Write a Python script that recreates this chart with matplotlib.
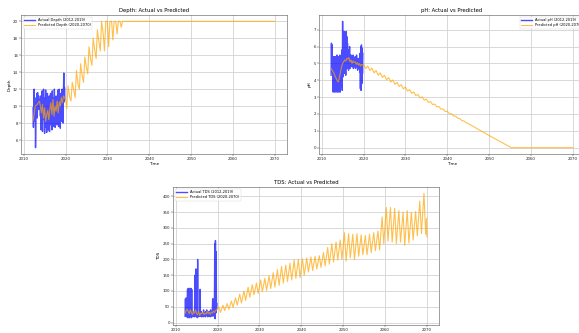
import numpy as np
import matplotlib
matplotlib.use("Agg")
import matplotlib.pyplot as plt

# actual measurements, monthly from Apr 2012
ACTUAL_START = 2012.25
ACTUAL_STEP = 1 / 12
# in-sample model fit, quarterly from Apr 2012
FIT_START = 2012.25
FIT_STEP = 0.25

depth_actual = [
    9.8, 7.5, 9.6, 12.0, 9.5, 8.2, 10.5, 5.1, 8.0,
    11.0, 9.2, 11.5, 8.6, 11.6, 9.8, 10.2, 11.2, 9.6, 10.8, 10.0, 10.5,
    8.8, 11.2, 7.2, 10.8, 8.0, 11.8, 7.0, 10.5, 9.2, 12.0, 8.4, 11.0,
    6.8, 10.8, 8.2, 11.9, 7.5, 10.2, 6.9, 9.8, 11.5, 8.0, 10.8, 7.2,
    9.5, 11.2, 7.0, 10.0, 8.5, 11.5, 7.8, 9.0, 10.5, 7.2, 11.8, 8.6,
    10.2, 7.6, 11.0, 8.8, 12.0, 9.0, 7.5, 10.6, 8.0, 11.2, 9.4, 7.8,
    10.8, 8.5, 11.9, 9.2, 7.6, 10.4, 12.0, 8.8, 10.0, 7.4, 11.5, 9.0,
    10.6, 8.2, 12.0, 9.5, 10.8, 8.0, 11.6, 13.9, 10.5, 12.2, 10.8,
]
depth_fit = [
    8.3, 9.0, 10.0, 10.1, 10.2, 10.4, 10.6, 10.0, 9.2, 10.2, 8.6, 9.8,
    8.2, 9.0, 9.5, 8.4, 9.6, 10.4, 9.0, 10.8, 8.8, 10.0, 9.4, 10.6,
    9.2, 10.5, 10.0, 11.0, 10.4, 11.2, 11.0,
]
depth_pred_years = [
    2020.0, 2020.3, 2020.6, 2021.0, 2021.3, 2021.6, 2022.0, 2022.3, 2022.6,
    2023.0, 2023.3, 2023.6, 2024.0, 2024.3, 2024.6, 2025.0, 2025.3, 2025.6,
    2026.0, 2026.3, 2026.6, 2027.0, 2027.3, 2027.6, 2028.0, 2028.3, 2028.6,
    2029.0, 2029.3, 2029.6, 2030.0, 2030.3, 2030.6, 2031.0, 2031.3, 2031.6,
    2032.0, 2032.3, 2032.6, 2033.0, 2033.3, 2033.6, 2070.0,
]
depth_pred = [
    10.8, 9.7, 12.4, 11.0, 10.6, 12.8, 11.8, 11.0, 14.2,
    12.5, 12.0, 15.0, 13.5, 12.8, 15.8, 14.5, 13.8, 17.0,
    15.5, 14.8, 18.0, 16.5, 15.6, 19.0, 17.5, 16.5, 20.0,
    18.5, 16.5, 20.0, 20.0, 17.0, 20.0, 20.0, 17.8, 20.0,
    20.0, 18.5, 20.0, 20.0, 19.3, 20.0, 20.0,
]

ph_actual = [
    4.3, 6.2, 4.5, 6.1, 4.8, 5.4, 3.3, 5.4, 3.4,
    5.4, 3.3, 5.4, 3.5, 5.3, 3.3, 5.4, 3.4, 5.5, 3.3, 5.4, 3.6,
    5.3, 3.3, 5.4, 3.4, 5.5, 3.3, 5.2, 3.6, 5.4, 4.0, 5.8, 3.4,
    7.5, 4.2, 6.0, 4.5, 6.9, 4.4, 6.8, 4.6, 6.5, 4.3, 6.9, 4.8,
    6.6, 4.7, 6.2, 4.9, 5.8, 4.6, 5.6, 4.8, 6.0, 4.7, 5.5, 4.9,
    5.5, 4.9, 5.3, 4.8, 5.2, 4.9, 5.5, 4.7, 5.3, 4.9, 5.1, 4.8,
    5.4, 4.7, 5.2, 4.9, 5.5, 4.8, 5.1, 4.6, 5.3, 4.9, 5.0, 4.7,
    5.3, 4.5, 5.6, 3.5, 6.0, 3.4, 6.1, 3.8, 5.9, 4.4, 5.6,
]
ph_fit = [
    4.7, 4.6, 4.5, 4.4, 4.2, 4.1, 3.95, 3.9, 4.2, 4.5, 4.8, 5.0,
    5.1, 5.2, 5.15, 5.3, 5.25, 5.35, 5.1, 5.2, 5.0, 5.15, 5.05, 5.1,
    4.95, 5.05, 4.9, 5.0, 4.85, 4.95, 4.9,
]
ph_pred_years = [
    2020.0, 2020.5, 2021.0, 2021.5, 2022.0, 2022.5, 2023.0, 2023.5,
    2024.0, 2024.5, 2025.0, 2025.5, 2026.0, 2026.5, 2027.0, 2027.5,
    2028.0, 2028.5, 2029.0, 2029.5, 2030.0, 2030.5, 2031.0, 2031.5,
    2032.0, 2032.5, 2033.0, 2033.5, 2034.0, 2034.5, 2035.0, 2035.5,
    2036.0, 2036.5, 2037.0, 2037.5, 2038.0, 2038.5, 2039.0, 2039.5,
    2040.0, 2040.5, 2041.0, 2041.5, 2042.0, 2042.5, 2043.0, 2043.5,
    2044.0, 2044.5, 2045.0, 2050.0, 2055.3, 2070.0,
]
ph_pred = [
    4.95, 4.70, 4.85, 4.58, 4.72, 4.44, 4.58, 4.30,
    4.44, 4.17, 4.30, 4.03, 4.16, 3.90, 4.02, 3.76,
    3.88, 3.63, 3.74, 3.49, 3.60, 3.36, 3.45, 3.22,
    3.31, 3.09, 3.16, 2.95, 3.02, 2.82, 2.88, 2.69,
    2.73, 2.56, 2.59, 2.42, 2.44, 2.29, 2.30, 2.15,
    2.16, 2.02, 2.01, 1.88, 1.87, 1.75, 1.72, 1.61,
    1.58, 1.48, 1.43, 0.72, 0.0, 0.0,
]

tds_actual = [
    20, 75, 22, 78, 18, 30, 20, 105, 15,
    108, 20, 108, 15, 108, 18, 108, 22, 108, 15, 105, 20,
    25, 18, 30, 20, 22, 35, 18, 150, 20, 30, 170, 25,
    20, 35, 15, 200, 22, 30, 18, 25, 20, 35, 105, 22,
    20, 35, 18, 28, 25, 20, 30, 18, 40, 22, 28, 20,
    30, 18, 35, 22, 25, 40, 20, 28, 18, 32, 25, 20,
    35, 22, 28, 18, 40, 25, 20, 30, 22, 38, 75, 20,
    70, 25, 75, 30, 250, 12, 260, 30, 225, 40, 60,
]
tds_fit = [
    30, 38, 42, 35, 28, 40, 32, 25, 35, 30, 40, 28,
    25, 35, 22, 30, 28, 33, 25, 30, 27, 35, 28, 32,
    26, 33, 30, 36, 32, 38, 40,
]
# yearly seasonal peak / trough of the TDS forecast, 2020..2069
tds_pred_high = [
    50, 55, 60, 68, 78, 90, 100, 112, 120, 125,
    135, 140, 148, 158, 168, 178, 182, 188, 198, 200,
    202, 205, 208, 210, 212, 222, 238, 250, 255, 262,
    285, 282, 280, 282, 278, 276, 280, 285, 290, 335,
    365, 365, 362, 355, 350, 355, 350, 352, 385, 410,
]
tds_pred_low = [
    32, 38, 42, 48, 55, 62, 70, 80, 88, 92,
    98, 102, 108, 112, 118, 125, 130, 135, 140, 142,
    150, 160, 165, 170, 175, 180, 185, 192, 198, 200,
    195, 205, 200, 210, 215, 215, 222, 228, 230, 250,
    258, 255, 250, 255, 245, 252, 262, 275, 282, 280,
]
tds_pred_end = [330, 272]


def actual_times(values):
    return ACTUAL_START + np.arange(len(values)) * ACTUAL_STEP


def fit_times(values):
    return FIT_START + np.arange(len(values)) * FIT_STEP


# tds forecast: peak early in the year, trough later
tds_years = np.arange(2020, 2020 + len(tds_pred_high))
tds_pred_t = np.column_stack([tds_years + 0.3, tds_years + 0.7]).ravel()
tds_pred_v = np.column_stack([tds_pred_high, tds_pred_low]).ravel()
tds_pred_t = np.concatenate([tds_pred_t, [2069.9, 2070.0]])
tds_pred_v = np.concatenate([tds_pred_v, tds_pred_end])

FS_TICK = 2.8
FS_TITLE = 3.8
FS_LABEL = 3.0
FS_LEGEND = 2.6

plt.rcParams.update({
    "font.family": "DejaVu Sans",
    "axes.linewidth": 0.4,
    "axes.edgecolor": "#555555",
    "xtick.major.width": 0.35,
    "ytick.major.width": 0.35,
    "xtick.major.size": 1.2,
    "ytick.major.size": 1.2,
    "xtick.color": "#444444",
    "ytick.color": "#444444",
    "xtick.labelcolor": "#222222",
    "ytick.labelcolor": "#222222",
    "xtick.major.pad": 1.0,
    "ytick.major.pad": 1.0,
    "xtick.labelsize": FS_TICK,
    "ytick.labelsize": FS_TICK,
    "axes.titlesize": FS_TITLE,
    "axes.titlepad": 2.0,
    "axes.labelsize": FS_LABEL,
    "axes.labelpad": 1.0,
    "grid.linewidth": 0.6,
    "grid.color": "#d2d2d2",
})

fig = plt.figure(figsize=(5.79, 3.33), dpi=100)
W, H = 579, 333


def px_axes(left, top, right, bottom):
    return fig.add_axes([left / W, 1 - bottom / H, (right - left) / W, (bottom - top) / H])


ax1 = px_axes(21, 15, 287, 154)
ax2 = px_axes(319, 15, 585, 154)
ax3 = px_axes(173, 187, 439, 325)

panels = [
    (ax1, "Depth", depth_actual, depth_fit, depth_pred_years, depth_pred, "upper left"),
    (ax2, "pH", ph_actual, ph_fit, ph_pred_years, ph_pred, "upper right"),
    (ax3, "TDS", tds_actual, tds_fit, tds_pred_t, tds_pred_v, "upper left"),
]

for ax, name, act, fit, pyears, pvals, loc in panels:
    ax.plot(actual_times(act), act, color="blue", alpha=0.7, lw=1.0,
            label=f"Actual {name} (2012-2019)")
    t_orange = np.concatenate([fit_times(fit), pyears])
    v_orange = np.concatenate([fit, pvals])
    ax.plot(t_orange, v_orange, color="orange", alpha=0.7, lw=0.8,
            label=f"Predicted {name} (2020-2070)")
    ax.set_title(f"{name}: Actual vs Predicted")
    ax.set_xlabel("Time")
    ax.set_ylabel(name)
    ax.grid(True)
    leg = ax.legend(loc=loc, fontsize=FS_LEGEND, handlelength=3.0, borderpad=0.4,
                    labelspacing=0.3, framealpha=0.8, edgecolor="#cccccc")
    leg.get_frame().set_linewidth(0.3)

fig.savefig("out.png", dpi=100)
